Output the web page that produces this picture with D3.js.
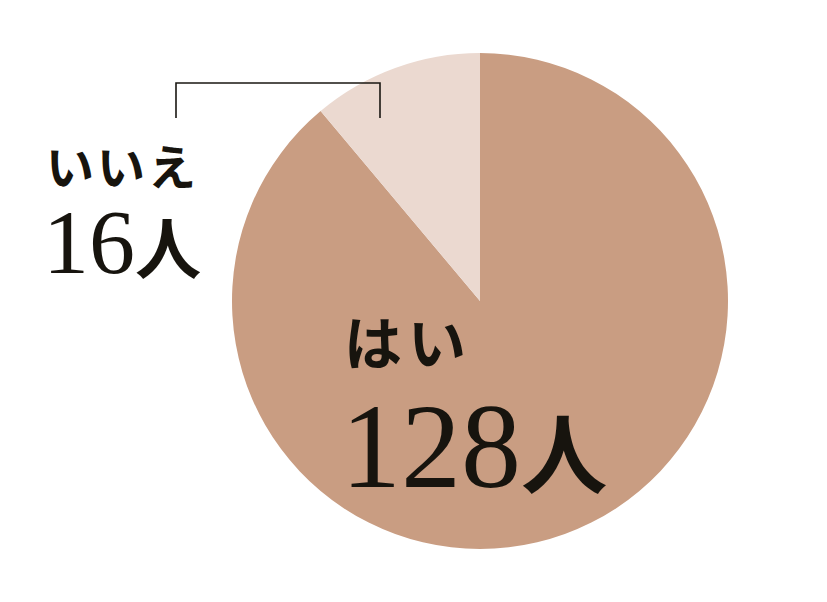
<!DOCTYPE html>
<html>
<head>
<meta charset="utf-8">
<script src="https://cdn.jsdelivr.net/npm/d3@7"></script>
<style>
  body { margin: 0; background: #fff; }
  svg { display: block; }
</style>
</head>
<body>
<svg id="chart" width="827" height="602"></svg>
<script>
// answers and counts
const answers = ['はい', 'いいえ'];
const counts = [128, 16];
const unit = '人';
const sliceColors = ['#c99d82', '#ebd9d0'];

const width = 827, height = 602;
const cx = 480, cy = 301, radius = 248;

const svg = d3.select('#chart');

const data = answers.map(function(a, i){
    return { label: a, value: counts[i], color: sliceColors[i] };
});

// no sorting - はい starts at 12 o'clock clockwise, いいえ ends there
const pie = d3.pie()
    .sort(null)
    .value(function(d){ return d.value; });

const arc = d3.arc()
    .innerRadius(0)
    .outerRadius(radius);

const g = svg.append('g')
    .attr('transform', 'translate(' + cx + ',' + cy + ')');

const arcs = pie(data);

g.selectAll('.slice')
    .data(arcs)
    .enter()
    .append('path')
    .attr('class', 'slice')
    .attr('d', arc)
    .attr('fill', function(d){ return d.data.color; });

// bracket above the small slice
const leftX = 176, rightX = 380;
const bracketTop = 83, bracketBottom = 118;
svg.append('path')
    .attr('d', 'M' + leftX + ',' + bracketBottom + 'V' + bracketTop + 'H' + rightX + 'V' + bracketBottom)
    .attr('fill', 'none')
    .attr('stroke', '#1a1712')
    .attr('stroke-width', 1.6);

// labels
const serif = "'Liberation Serif', 'DejaVu Serif', serif";
const jp = "'Noto Sans CJK JP', sans-serif";
const ink = '#17140e';

function drawLabel(x, yName, yNum, nameSize, spacing, numSize, d){
    svg.append('text')
        .attr('x', x)
        .attr('y', yName)
        .attr('font-family', jp)
        .attr('font-weight', 700)
        .attr('font-size', nameSize + 'px')
        .attr('letter-spacing', spacing + 'px')
        .attr('fill', ink)
        .text(d.label);

    const t = svg.append('text')
        .attr('x', x - 3)
        .attr('y', yNum)
        .attr('fill', ink);
    t.append('tspan')
        .attr('font-family', serif)
        .attr('font-size', numSize + 'px')
        .text(d.value);
    t.append('tspan')
        .attr('font-family', jp)
        .attr('font-weight', 700)
        .attr('font-size', (numSize * 0.72) + 'px')
        .text(unit);
}

drawLabel(46, 185, 273, 48, 3, 92, data[1]);
drawLabel(344, 365, 487, 58, 6, 120, data[0]);
</script>
</body>
</html>
